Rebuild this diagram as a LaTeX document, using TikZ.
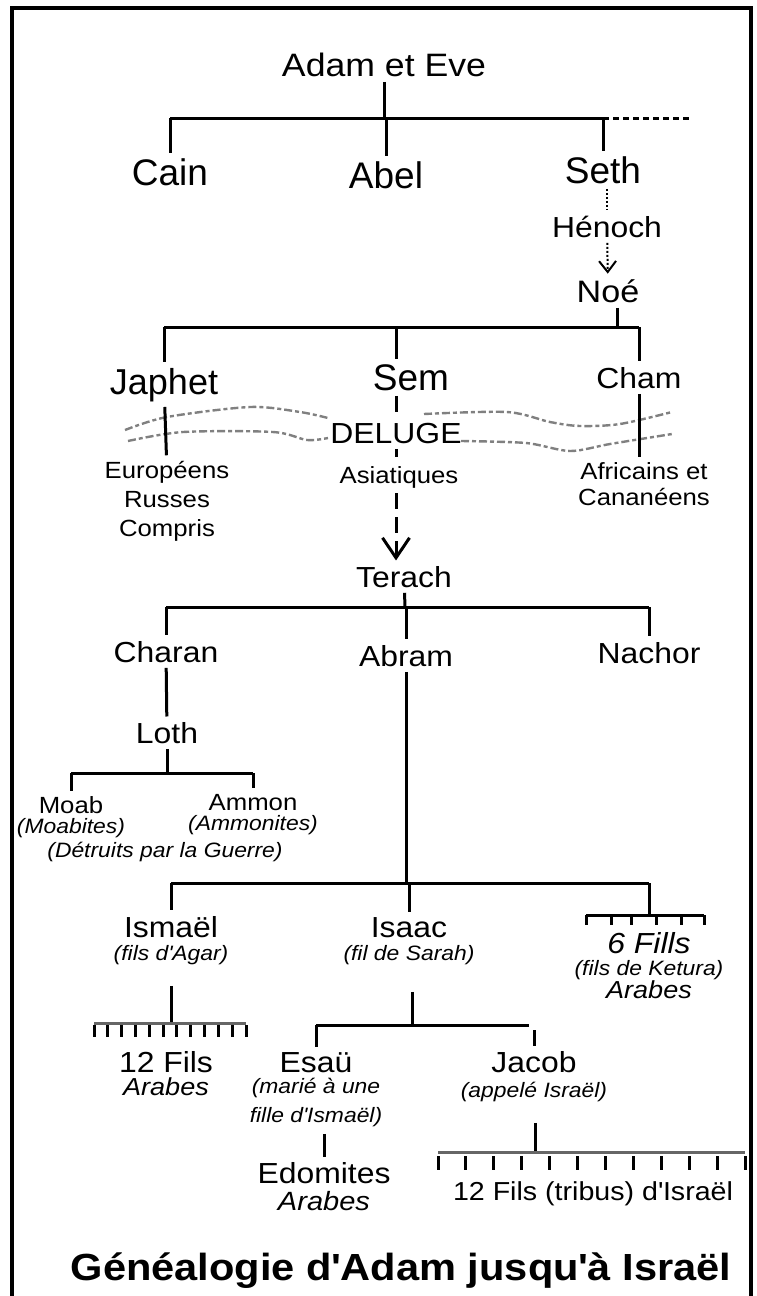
\documentclass[tikz,border=0pt]{standalone}
\usepackage{fontspec}
\setmainfont{Liberation Sans}[FakeStretch=1.1]
\newfontfamily\plainsans{Liberation Sans}
\usetikzlibrary{arrows.meta,calc,positioning}
\definecolor{floodgray}{gray}{0.5}
\definecolor{stemgray}{gray}{0.4}
\newcommand{\apo}{\textquotesingle}

\begin{document}
\begin{tikzpicture}[x=0.5pt, y=-0.5pt, line width=1.5pt,
    every node/.style={inner sep=2pt, anchor=base},
    elder/.style={font=\plainsans\fontsize{18.5}{21}\selectfont},
    person/.style={font=\fontsize{14.5}{17}\selectfont},
    peoples/.style={font=\fontsize{11.7}{14}\selectfont},
    note/.style={font=\fontsize{10.4}{12}\selectfont\itshape},
    tribe/.style={font=\fontsize{12.3}{14}\selectfont\itshape},
    wave/.style={floodgray, line width=1.2pt, dash pattern=on 4pt off 1.5pt on 2pt off 1.5pt},
    comb/.style={stemgray, line width=1.5pt}]
    \useasboundingbox (0,0) rectangle (756,1296);
    \draw[line width=2pt] (12,1296) -- (12,8) -- (751,8) -- (751,1296);

    \node(adam) [font=\fontsize{16.2}{19}\selectfont] at (384,76) {Adam et Eve};
    \node(cain) [elder] at (170,185) {Cain};
    \node(abel) [elder] at (386,188) {Abel};
    \node(seth) [elder] at (603,183) {Seth};
    \node(henoch) [person] at (607,237) {Hénoch};
    \node(noe) [person, font=\fontsize{15.5}{18}\selectfont] at (608,302) {Noé};
    \node(japhet) [font=\plainsans\fontsize{18}{21}\selectfont] at (164,394) {Japhet};
    \node(sem) [elder] at (411,390) {Sem};
    \node(cham) [person] at (639,388) {Cham};
    \node(deluge) [person] at (396,443) {DELUGE};
    \node(europeens) [peoples] at (167,478) {Européens};
    \node(russes) [peoples, below=14.5pt of europeens.base, anchor=base] {Russes};
    \node(compris) [peoples, below=14.5pt of russes.base, anchor=base] {Compris};
    \node(asiatiques) [peoples] at (399,483) {Asiatiques};
    \node(africains) [peoples] at (644,479) {Africains et};
    \node(cananeens) [peoples, below=13pt of africains.base, anchor=base] {Cananéens};
    \node(terach) [person] at (404,587) {Terach};
    \node(charan) [person] at (166,662) {Charan};
    \node(abram) [person] at (406,666) {Abram};
    \node(nachor) [person] at (649,663) {Nachor};
    \node(loth) [person] at (167,743) {Loth};
    \node(moab) [peoples] at (71,813) {Moab};
    \node(moabites) [note, below=10pt of moab.base, anchor=base] {(Moabites)};
    \node(ammon) [peoples] at (253,810) {Ammon};
    \node(ammonites) [note, below=10pt of ammon.base, anchor=base] {(Ammonites)};
    \node(detruits) [note] at (165,857) {(Détruits par la Guerre)};
    \node(ismael) [person] at (171,937) {Ismaël};
    \node(fagar) [note, below=11.5pt of ismael.base, anchor=base] {(fils d\apo Agar)};
    \node(isaac) [person] at (409,937) {Isaac};
    \node(sarah) [note, below=11.5pt of isaac.base, anchor=base] {(fil de Sarah)};
    \node(sixfils) [person] at (649,953) {\itshape 6 Fills};
    \node(ketura) [note, below=11pt of sixfils.base, anchor=base] {(fils de Ketura)};
    \node(arabesK) [tribe, below=11.5pt of ketura.base, anchor=base] {Arabes};
    \node(douze) [person] at (166,1072) {12 Fils};
    \node(arabesI) [tribe, below=11.5pt of douze.base, anchor=base] {Arabes};
    \node(esau) [person] at (316,1072) {Esaü};
    \node(marie) [note, below=10.5pt of esau.base, anchor=base] {(marié à une};
    \node(fille) [note, below=14.5pt of marie.base, anchor=base] {fille d\apo Ismaël)};
    \node(jacob) [person] at (534,1072) {Jacob};
    \node(appele) [note, below=12.5pt of jacob.base, anchor=base] {(appelé Israël)};
    \node(edomites) [person] at (324,1183) {Edomites};
    \node(arabesE) [tribe, font=\fontsize{13.2}{15}\selectfont\itshape, below=13.5pt of edomites.base, anchor=base] {Arabes};
    \node(tribus) [font=\fontsize{13}{15}\selectfont] at (593,1200) {12 Fils (tribus) d\apo Israël};
    \node(title) [font=\fontsize{18.9}{22}\selectfont\bfseries] at (401,1280) {Généalogie d\apo Adam jusqu\apo à Israël};

    \coordinate(kA) at (384,118);
    \coordinate(kAend) at (691,118);
    \draw (adam) -- (kA);
    \draw (cain |- kA) -- (seth |- kA);
    \draw[dash pattern=on 3pt off 2pt] (seth |- kA) -- (kAend);
    \draw (cain |- kA) -- (cain);
    \draw (abel |- kA) -- (abel);
    \draw (seth |- kA) -- (seth);
    \draw[densely dotted, line width=1pt] (henoch |- seth.south) -- (henoch);
    \draw[densely dotted, line width=1pt, -{Straight Barb[length=5.5pt,width=8.5pt]}] (henoch) -- (noe);

    \coordinate(kN) at (617,327);
    \draw (kN |- noe.south) -- (kN);
    \draw (japhet |- kN) -- (cham |- kN);
    \draw (japhet |- kN) -- (japhet);
    \draw (deluge |- kN) -- (deluge |- sem.north);
    \draw (cham |- kN) -- (cham);

    \draw[wave] plot[smooth] coordinates {(125,430) (167,417) (250,407) (300,412) (328,418)};
    \draw[wave] plot[smooth] coordinates {(128,441) (183,432) (273,432) (307,440) (328,438)};
    \draw[wave] plot[smooth] coordinates {(424,414) (507,412) (550,422) (580,426) (620,424) (672,412)};
    \draw[wave] plot[smooth] coordinates {(461,441) (526,443) (570,451) (610,444) (672,434)};

    \draw (japhet) -- (europeens);
    \draw (cham.south) -- (cham |- africains.north);
    \draw[dash pattern=on 8pt off 5pt] (deluge |- sem.south) -- (deluge);
    \draw[dash pattern=on 4pt off 5pt] (deluge) -- (deluge |- asiatiques.north);
    \draw[dash pattern=on 8pt off 4pt, -{Straight Barb[length=10pt,width=13.5pt]}] (deluge |- asiatiques.south) -- (deluge |- terach.north);

    \coordinate(kT) at (405,607);
    \draw (terach) -- (kT);
    \draw (charan |- kT) -- (nachor |- kT);
    \draw (charan |- kT) -- (charan);
    \draw (abram |- kT) -- (abram);
    \draw (nachor |- kT) -- (nachor);
    \draw (charan) -- (loth);
    \coordinate(kL) at (167,773);
    \draw (loth) -- (kL);
    \draw (moab |- kL) -- (ammon |- kL);
    \draw (moab |- kL) -- (moab);
    \draw (ammon |- kL) -- (ammon);

    \coordinate(kB) at (406,883);
    \draw (abram) -- (kB);
    \draw (ismael |- kB) -- (sixfils |- kB);
    \draw (ismael |- kB) -- (ismael);
    \draw (isaac |- kB) -- (isaac);
    \coordinate(sixL) at (586,915);
    \coordinate(sixR) at (704,915);
    \draw (sixfils |- kB) -- (sixfils |- sixL);
    \draw (sixL) -- (sixR);
    \foreach \x in {586,611,631,656,681,704}
        \draw (\x,915) -- (\x,925);

    \coordinate(iL) at (94,1023);
    \coordinate(iR) at (246,1023);
    \draw ($(fagar.south)+(0,16)$) -- (fagar |- iL);
    \draw[comb] (iL) -- (iR);
    \foreach \i in {0,...,11}
        \draw ($(iL)!\i/11!(iR)$) ++(0,2) -- ++(0,12);

    \coordinate(kC) at (412,1025);
    \coordinate(kCe) at (529,1025);
    \coordinate(kJ) at (534,1030);
    \draw ($(sarah.south -| kC)+(0,22)$) -- (kC);
    \draw (esau |- kC) -- (kCe);
    \draw (esau |- kC) -- (esau);
    \draw (kJ) -- (jacob);
    \draw ($(edomites |- fille.south)+(0,2)$) -- (edomites);

    \coordinate(jL) at (438,1152);
    \coordinate(jR) at (745,1152);
    \coordinate(kJc) at (535,1152);
    \draw ($(appele.south -| kJc)+(0,16)$) -- (kJc);
    \draw[comb] (jL) -- (jR);
    \foreach \i in {0,...,11}
        \draw ($(jL)!\i/11!(jR)$) ++(0,4) -- ++(0,14);
\end{tikzpicture}
\end{document}
